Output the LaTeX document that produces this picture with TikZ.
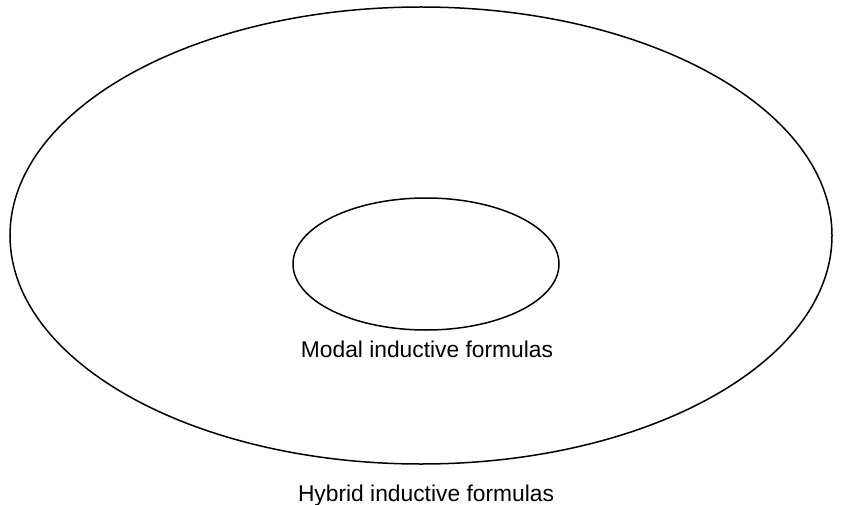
\documentclass[tikz,border=0pt]{standalone}
\usepackage{fontspec}
\setmainfont{Liberation Sans}
\begin{document}
\begin{tikzpicture}[x=1pt,y=-1pt,
  setline/.style={draw=black,line width=1.5pt},
  setlabel/.style={anchor=base,inner sep=0pt,font=\fontsize{22.8}{27}\selectfont}]
\useasboundingbox (0,0) rectangle (842,505);
% outer set: hybrid inductive formulas
\draw[setline] (421,235.5) ellipse [x radius=411, y radius=228.5];
% inner set: modal inductive formulas
\draw[setline] (426,264) ellipse [x radius=133, y radius=66];
\node[setlabel] (modal) at (427,357) {Modal inductive formulas};
\node[setlabel] (hybrid) at (426,501) {Hybrid inductive formulas};
\end{tikzpicture}
\end{document}
